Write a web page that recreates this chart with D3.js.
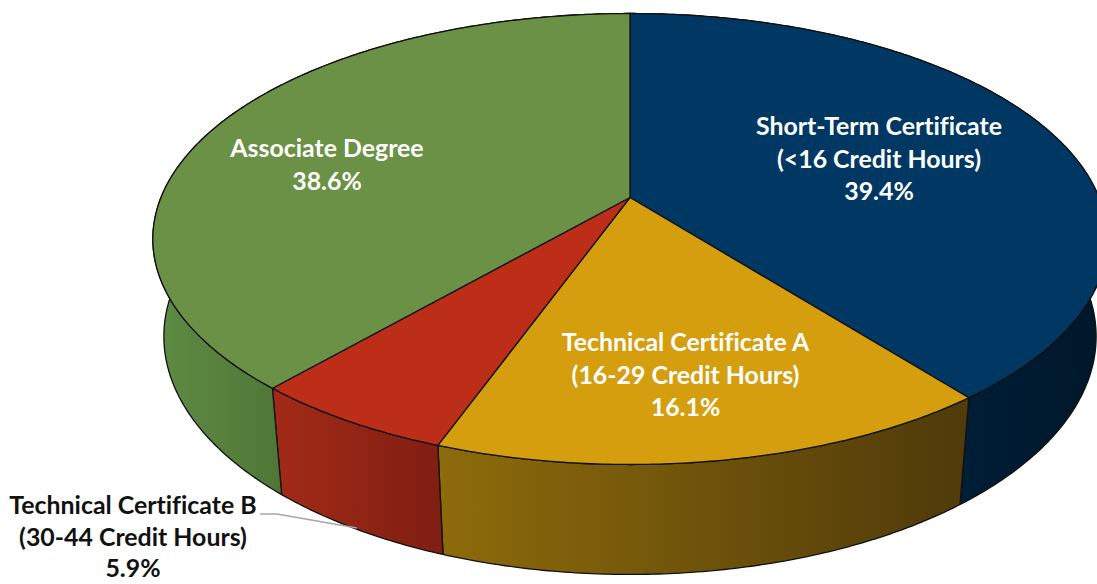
<!DOCTYPE html>
<html><head><meta charset="utf-8">
<script src="https://cdn.jsdelivr.net/npm/d3@7"></script>
<style>body{margin:0;background:#fff}svg{display:block}text{font-variant-ligatures:none}</style>
</head><body><svg id="c" width="1097" height="584"></svg>
<script>
// ---- data ----
const categories = ["Short-Term Certificate", "Technical Certificate A", "Technical Certificate B", "Associate Degree"];
const creditHours = ["(<16 Credit Hours)", "(16-29 Credit Hours)", "(30-44 Credit Hours)", ""];
const shares = [39.4, 16.1, 5.9, 38.6];
const shareLabels = ["39.4%", "16.1%", "5.9%", "38.6%"];

// ---- styles ----
const topColors = ["#003863", "#d49e0e", "#bd2e18", "#6a9145"];
const sideColors = [["#001e36", "#00172a"], ["#8d6b0b", "#503b0a"], ["#a12a17", "#7f1e12"], ["#5e8a43", "#4f7636"]];
// label layout: [centerX, firstBaseline, lineGap, color]
const labelLayout = [[879, 135, 32.7, "#fff"], [685.5, 351, 32.7, "#fff"], [133, 514, 31.5, "#111"], [327, 157, 32.7, "#fff"]];

const svg = d3.select("#c");
const defs = svg.append("defs");

// perspective projection of a disk
const cx = 630, cy = 197.5, alpha = Math.asin(0.4645), R = 0.2078, F = 2257, thick = 0.0492;
function project(theta, y) {
  const X = R * Math.sin(theta), Z = -R * Math.cos(theta);
  const yc = y * Math.cos(alpha) - Z * Math.sin(alpha);
  const d = 1 - Z * Math.cos(alpha) - y * Math.sin(alpha);
  return [cx + F * X / d, cy - F * yc / d];
}
const pie = d3.pie().sort(null).value(d => d);
const arcs = pie(shares);
const line = d3.line();
function samples(a0, a1) {
  const n = Math.max(4, Math.ceil((a1 - a0) / 0.01));
  return d3.range(n + 1).map(i => a0 + (a1 - a0) * i / n);
}

// side walls
const visLo = 95 * Math.PI / 180, visHi = 265 * Math.PI / 180;
arcs.forEach((a, i) => {
  const ts = samples(a.startAngle, a.endAngle);
  const topPts = ts.map(t => project(t, 0));
  const botPts = ts.map(t => project(t, -thick)).reverse();
  const lo = Math.min(Math.max(a.startAngle, visLo), visHi);
  const hi = Math.min(Math.max(a.endAngle, visLo), visHi);
  const xs = samples(lo, hi).map(t => project(t, -thick)[0]);
  const g = defs.append("linearGradient").attr("id", "side" + i)
    .attr("gradientUnits", "userSpaceOnUse")
    .attr("x1", d3.min(xs)).attr("x2", d3.max(xs)).attr("y1", 0).attr("y2", 0);
  g.append("stop").attr("offset", 0).attr("stop-color", sideColors[i][0]);
  g.append("stop").attr("offset", 1).attr("stop-color", sideColors[i][1]);
  svg.append("path").attr("d", line(topPts.concat(botPts)) + "Z")
    .attr("fill", "url(#side" + i + ")").attr("stroke", "#111").attr("stroke-width", 1.3)
    .attr("stroke-linejoin", "round");
});

// top faces
arcs.forEach((a, i) => {
  const pts = [[cx, cy]].concat(samples(a.startAngle, a.endAngle).map(t => project(t, 0)));
  svg.append("path").attr("d", line(pts) + "Z")
    .attr("fill", topColors[i]).attr("stroke", "#111").attr("stroke-width", 1.3)
    .attr("stroke-linejoin", "round");
});

// leader line for the small slice
svg.append("path").attr("d", line([[260, 514], [277, 514], [357, 528]]))
  .attr("fill", "none").attr("stroke", "#a6a6a6").attr("stroke-width", 1.5);

// font sizing to match reference text width
const fam = "Lato, 'Open Sans', sans-serif";
const probe = svg.append("text").attr("font-family", fam).attr("font-weight", 700)
  .attr("font-size", 100).text("Short-Term Certificate");
const fs = 100 * 246 / probe.node().getComputedTextLength();
probe.remove();

arcs.forEach((a, i) => {
  const [x, y0, gap, col] = labelLayout[i];
  const lines = [categories[i], creditHours[i], shareLabels[i]].filter(s => s);
  const t = svg.append("text").attr("font-family", fam).attr("font-weight", 700)
    .attr("font-size", fs).attr("fill", col).attr("text-anchor", "middle");
  lines.forEach((s, k) => t.append("tspan").attr("x", x).attr("y", y0 + k * gap).text(s));
});
</script>
</body></html>
